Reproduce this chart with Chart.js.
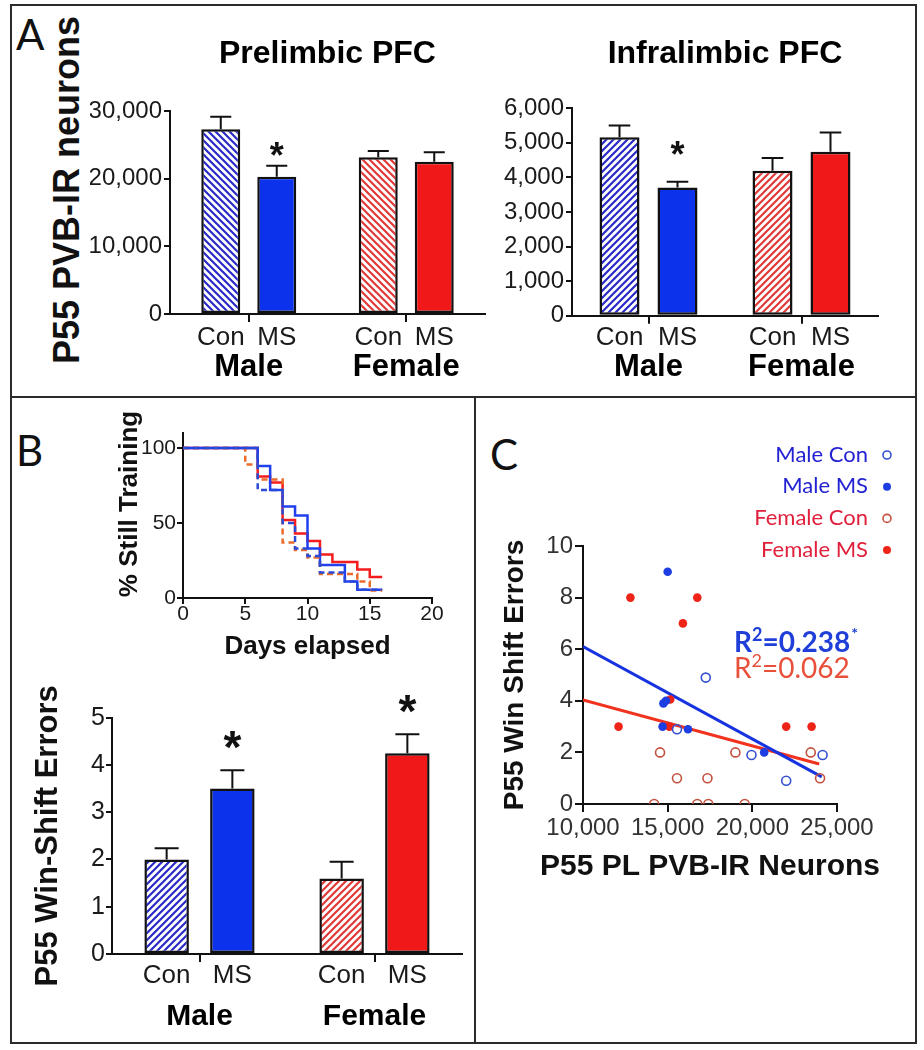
<!DOCTYPE html>
<html>
<head>
<meta charset="utf-8">
<title>P55 PVB-IR neurons and win-shift errors</title>
<script src="https://cdn.jsdelivr.net/npm/chart.js@4.4.1/dist/chart.umd.min.js"></script>
<style>
  html, body { margin: 0; padding: 0; background: #fff; }
  body { width: 924px; height: 1050px; position: relative; overflow: hidden; font-family: 'Liberation Sans', Arial, sans-serif; }
  .frame { position: absolute; left: 10px; top: 4px; width: 903px; height: 1036px; border: 2px solid #2b2b2b; }
  .hline { position: absolute; left: 10px; top: 396px; width: 907px; height: 2px; background: #2b2b2b; }
  .vline { position: absolute; left: 474px; top: 396px; width: 2px; height: 648px; background: #2b2b2b; }
  .letter { position: absolute; font-family: Lato, 'Open Sans', sans-serif; font-size: 42px; line-height: 1; color: #111; }
  .ylab { position: absolute; width: 400px; text-align: center; font-weight: bold; font-size: 36px; line-height: 36px; color: #111; transform: rotate(-90deg); }
  canvas { position: absolute; }
</style>
</head>
<body>
<div class="frame"></div>
<div class="hline"></div>
<div class="vline"></div>
<div class="letter" style="left:16px; top:13px;">A</div>
<div class="letter" style="left:16px; top:429px;">B</div>
<div class="letter" style="left:490px; top:433px;">C</div>
<div class="ylab" style="left:-133px; top:172px;">P55 PVB-IR neurons</div>

<canvas id="plChart" width="410" height="375" style="left:90px; top:20px;"></canvas>
<canvas id="ilChart" width="400" height="375" style="left:495px; top:20px;"></canvas>
<canvas id="survChart" width="350" height="270" style="left:95px; top:400px;"></canvas>
<canvas id="wsChart" width="455" height="360" style="left:15px; top:680px;"></canvas>
<canvas id="corrChart" width="432" height="641" style="left:478px; top:400px;"></canvas>

<script>
// ---- data ----
const groups = ['Male', 'Female'];
const conditions = ['Con', 'MS'];

// A: Prelimbic PFC, P55 PVB-IR neurons (Male, Female)
const plCon = [27300, 23150];
const plConSem = [1850, 950];
const plMs = [20300, 22500];
const plMsSem = [1600, 1400];
const plMsSig = [true, false];

// A: Infralimbic PFC
const ilCon = [5160, 4190];
const ilConSem = [340, 370];
const ilMs = [3710, 4740];
const ilMsSem = [165, 560];
const ilMsSig = [true, false];

// B: P55 win-shift errors
const wsCon = [2.0, 1.6];
const wsConSem = [0.24, 0.35];
const wsMs = [3.5, 4.25];
const wsMsSem = [0.39, 0.4];
const wsMsSig = [true, true];

// B inset: % still training by day
const days = [0, 5, 6, 7, 8, 9, 10, 11, 12, 13, 14, 15, 16];
const survTicks = [0, 50, 100];
const survMaleCon = [100, 100, 72, 72, 50, 33, 28, 17, 17, 11, 5.5, 5.5, 5.5];
const survMaleMs = [100, 100, 88, 72, 61, 55, 33, 22, 22, 11, 5.5, 5.5, 5.5];
const survFemaleCon = [100, 89, 79, 79, 37, 32, 27, 16, 16, 16, 11, 5, 5];
const survFemaleMs = [100, 100, 81, 77, 52, 43, 38, 29, 24, 24, 19, 14, 14];

// C: PL PVB-IR neurons vs win shift errors
const maleConX = [17250, 15550, 19950, 24150, 22000];
const maleConY = [4.9, 2.9, 1.9, 1.9, 0.9];
const maleMsX = [15000, 14750, 14900, 14700, 16200, 20700];
const maleMsY = [9, 3.9, 4.0, 3, 2.9, 2];
const femaleConX = [14550, 19000, 23450, 15550, 17350, 24000, 14200, 16750, 17400, 19550];
const femaleConY = [2, 2, 2, 1, 1, 1, 0, 0, 0, 0];
const femaleMsX = [12800, 16750, 15900, 15150, 12100, 15100, 22000, 23500];
const femaleMsY = [8, 8, 7, 4.05, 3, 3, 3, 3];
const maleFitX = [10000, 24100];
const maleFitY = [6.1, 1.05];
const femaleFitX = [10000, 23950];
const femaleFitY = [4.03, 1.55];
const maleR2 = 0.238;
const femaleR2 = 0.062;

// ---- styles ----
const FONT = "'Liberation Sans', Arial, Helvetica, sans-serif";
const CAL = "Lato, 'Open Sans', sans-serif";
const INK = '#111';
const BLUE_FILL = '#0d32ec';
const RED_FILL = '#f01818';
const BLUE_LINE = '#2a2ac8';
const RED_LINE = '#e03a3a';

Chart.defaults.font.family = FONT;
Chart.defaults.color = '#1a1a1a';
Chart.defaults.animation = false;
Chart.defaults.responsive = false;
Chart.defaults.plugins.legend.display = false;
Chart.defaults.plugins.tooltip.enabled = false;

// diagonal hatch for control bars
function hatch(color, dir) {
    const s = 7;
    const c = document.createElement('canvas');
    c.width = s; c.height = s;
    const g = c.getContext('2d');
    g.fillStyle = '#fff';
    g.fillRect(0, 0, s, s);
    g.strokeStyle = color;
    g.lineWidth = 2.2;
    g.beginPath();
    if (dir === '/') {
        g.moveTo(0, s); g.lineTo(s, 0);
        g.moveTo(-1, 1); g.lineTo(1, -1);
        g.moveTo(s - 1, s + 1); g.lineTo(s + 1, s - 1);
    } else {
        g.moveTo(0, 0); g.lineTo(s, s);
        g.moveTo(-1, s - 1); g.lineTo(1, s + 1);
        g.moveTo(s - 1, -1); g.lineTo(s + 1, 1);
    }
    g.stroke();
    return g.createPattern(c, 'repeat');
}

function drawStar(ctx, x, cy, size) {
    ctx.font = `bold ${size}px ${FONT}`;
    ctx.textAlign = 'center';
    ctx.textBaseline = 'alphabetic';
    ctx.fillStyle = INK;
    ctx.fillText('*', x, cy + 0.57 * size);
}

// error bars, asterisks, Con/MS labels, group labels, title
const barDecor = {
    id: 'barDecor',
    afterDatasetsDraw(chart, args, o) {
        const { ctx, chartArea: area, scales: { x, y } } = chart;
        ctx.save();
        chart.data.datasets.forEach((ds, di) => {
            chart.getDatasetMeta(di).data.forEach((bar, i) => {
                const p = bar.getProps(['x', 'y', 'width'], true);
                const top = y.getPixelForValue(ds.data[i] + ds.sem[i]);
                ctx.strokeStyle = INK;
                ctx.lineWidth = 2;
                ctx.beginPath();
                ctx.moveTo(p.x, p.y);
                ctx.lineTo(p.x, top);
                ctx.moveTo(p.x - p.width * 0.27, top);
                ctx.lineTo(p.x + p.width * 0.27, top);
                ctx.stroke();
                if (ds.sig[i]) drawStar(ctx, p.x, top - o.starGap, o.starSize);
                ctx.font = `${o.subSize}px ${FONT}`;
                ctx.fillStyle = '#1a1a1a';
                ctx.textAlign = 'center';
                ctx.textBaseline = 'alphabetic';
                ctx.fillText(ds.label, p.x, area.bottom + o.subY);
            });
        });
        ctx.font = `bold ${o.groupSize}px ${FONT}`;
        ctx.fillStyle = '#000';
        chart.data.labels.forEach((g, i) => ctx.fillText(g, x.getPixelForValue(i), area.bottom + o.groupY));
        if (o.title) {
            ctx.font = `bold ${o.titleSize}px ${FONT}`;
            ctx.fillText(o.title, (area.left + area.right) / 2, area.top + o.titleY);
        }
        ctx.restore();
    }
};

function yAxis(max, step, width, size, pad) {
    return {
        min: 0, max: max,
        ticks: { stepSize: step, font: { size: size }, color: '#1a1a1a', padding: pad, callback: v => v.toLocaleString('en-US') },
        grid: { drawOnChartArea: false, tickLength: 6, color: INK, lineWidth: 2 },
        border: { color: INK, width: 2 },
        afterFit: s => { s.width = width; }
    };
}

function groupBarChart(id, con, conSem, ms, msSem, msSig, yMax, yStep, dir, geo) {
    const barStyle = { borderColor: INK, borderWidth: 2.5, borderSkipped: false };
    return new Chart(document.getElementById(id), {
        type: 'bar',
        data: {
            labels: groups,
            datasets: [
                { label: conditions[0], data: con, sem: conSem, sig: [false, false],
                  backgroundColor: [hatch(BLUE_LINE, dir), hatch(RED_LINE, dir)], ...barStyle },
                { label: conditions[1], data: ms, sem: msSem, sig: msSig,
                  backgroundColor: [BLUE_FILL, RED_FILL], ...barStyle }
            ]
        },
        options: {
            layout: { padding: geo.pad },
            datasets: { bar: { categoryPercentage: geo.cat, barPercentage: geo.bar } },
            scales: {
                x: {
                    grid: { offset: false, drawOnChartArea: false, tickLength: 8, color: INK, lineWidth: 2 },
                    border: { color: INK, width: 2 },
                    ticks: { display: false },
                    afterFit: s => { s.height = geo.xh; }
                },
                y: yAxis(yMax, yStep, geo.yw, geo.tick, geo.tpad)
            },
            plugins: { barDecor: geo.decor }
        },
        plugins: [barDecor]
    });
}

// A – Prelimbic
groupBarChart('plChart', plCon, plConSem, plMs, plMsSem, plMsSig, 30000, 10000, '\\', {
    pad: { top: 91, right: 15, left: 0, bottom: 0 }, yw: 80, xh: 81, cat: 0.711, bar: 0.696, tick: 24, tpad: 2,
    decor: { title: 'Prelimbic PFC', titleSize: 32, titleY: -48, subSize: 26, subY: 31, groupSize: 31, groupY: 62, starGap: 18, starSize: 36 }
});

// A – Infralimbic
groupBarChart('ilChart', ilCon, ilConSem, ilMs, ilMsSem, ilMsSig, 6000, 1000, '/', {
    pad: { top: 88.3, right: 17, left: 0, bottom: 0 }, yw: 77, xh: 79.3, cat: 0.758, bar: 0.69, tick: 24, tpad: 2,
    decor: { title: 'Infralimbic PFC', titleSize: 32, titleY: -45.3, subSize: 26, subY: 29.3, groupSize: 31, groupY: 60.3, starGap: 35, starSize: 36 }
});

// B – win-shift errors
const wsChart = groupBarChart('wsChart', wsCon, wsConSem, wsMs, wsMsSem, wsMsSig, 5, 1, '/', {
    pad: { top: 37.7, right: 8, left: 0, bottom: 0 }, yw: 97, xh: 86, cat: 0.751, bar: 0.677, tick: 25, tpad: 1,
    decor: { subSize: 26, subY: 29, groupSize: 30, groupY: 71, starGap: 33, starSize: 46 }
});
wsChart.options.scales.y.title = { display: true, text: 'P55 Win-Shift Errors', color: INK,
    font: { size: 31, weight: 'bold', lineHeight: 1 }, padding: { top: 17.5, bottom: 0 } };
wsChart.update();

// B inset – % still training
function steps(vals) {
    return days.map((d, i) => ({ x: d, y: vals[i] }));
}
const survTitle = {
    id: 'survTitle',
    afterDraw(chart) {
        const { ctx, chartArea: a } = chart;
        ctx.save();
        ctx.translate(a.left - 53, 504 - 400);
        ctx.rotate(-Math.PI / 2);
        ctx.font = `bold 26px ${FONT}`;
        ctx.fillStyle = INK;
        ctx.textAlign = 'center';
        ctx.textBaseline = 'middle';
        ctx.fillText('% Still Training', 0, 0);
        ctx.restore();
    }
};
new Chart(document.getElementById('survChart'), {
    type: 'line',
    data: {
        datasets: [
            { label: 'Male Con', data: steps(survMaleCon), borderColor: '#2a4ad8', borderDash: [6, 4] },
            { label: 'Female Con', data: steps(survFemaleCon), borderColor: '#ec6a2a', borderDash: [6, 4] },
            { label: 'Male MS', data: steps(survMaleMs), borderColor: '#2040ee' },
            { label: 'Female MS', data: steps(survFemaleMs), borderColor: '#f41c1c' }
        ]
    },
    options: {
        layout: { padding: { top: 33, right: 13, left: 0, bottom: 0 } },
        elements: { line: { stepped: 'before', borderWidth: 2.5, fill: false }, point: { radius: 0 } },
        scales: {
            x: {
                type: 'linear', min: 0, max: 20,
                ticks: { stepSize: 5, font: { size: 21, lineHeight: 1 }, padding: 0, color: '#1a1a1a' },
                grid: { drawOnChartArea: false, tickLength: 6, color: INK, lineWidth: 2 },
                border: { color: INK, width: 2 },
                title: { display: true, text: 'Days elapsed', color: INK, font: { size: 26, weight: 'bold', lineHeight: 1 }, padding: { top: 0, bottom: 10 } },
                afterFit: s => { s.height = 72; }
            },
            y: {
                min: 0, max: 110,
                ticks: { font: { size: 21 }, padding: 1, color: '#1a1a1a' },
                grid: { drawOnChartArea: false, tickLength: 6, color: INK, lineWidth: 2 },
                border: { color: INK, width: 2 },
                afterBuildTicks: s => { s.ticks = survTicks.map(v => ({ value: v })); },
                afterFit: s => { s.width = 88; }
            }
        }
    },
    plugins: [survTitle]
});

// C – correlation
function pts(xs, ys) {
    return xs.map((x, i) => ({ x: x, y: ys[i] }));
}
const legendColors = ['#2323d2', '#2323d2', '#e0203c', '#e0203c'];

function drawR2(ctx, x, y, r2, color, bold, star) {
    const w = bold ? 'bold ' : '';
    ctx.fillStyle = color;
    ctx.textAlign = 'left';
    ctx.textBaseline = 'alphabetic';
    ctx.font = `${w}28px ${CAL}`;
    ctx.fillText('R', x, y);
    x += ctx.measureText('R').width;
    ctx.font = `${w}18px ${CAL}`;
    ctx.fillText('2', x, y - 11);
    x += ctx.measureText('2').width;
    ctx.font = `${w}28px ${CAL}`;
    const s = '=' + r2.toFixed(3);
    ctx.fillText(s, x, y);
    x += ctx.measureText(s).width;
    if (star) {
        ctx.font = `${w}16px ${CAL}`;
        ctx.fillText('*', x + 1, y - 13);
    }
}

const corrDecor = {
    id: 'corrDecor',
    afterDraw(chart) {
        const { ctx, chartArea: a } = chart;
        ctx.save();
        ctx.font = `22px ${CAL}`;
        ctx.textAlign = 'right';
        ctx.textBaseline = 'alphabetic';
        for (let i = 0; i < 4; i++) {
            const ds = chart.data.datasets[i];
            const by = a.top - 84.3 + i * 31.7;
            ctx.fillStyle = legendColors[i];
            ctx.fillText(ds.label, a.right + 31, by);
            ctx.beginPath();
            ctx.arc(a.right + 50, by - 6.7, 4, 0, Math.PI * 2);
            if (ds.pointBorderWidth > 0) {
                ctx.strokeStyle = ds.borderColor;
                ctx.lineWidth = 1.6;
                ctx.stroke();
            } else {
                ctx.fillStyle = ds.backgroundColor;
                ctx.fill();
            }
        }
        drawR2(ctx, a.left + 151, a.top + 105.7, maleR2, '#1f3fd8', true, true);
        drawR2(ctx, a.left + 151, a.top + 132, femaleR2, '#e8503a', false, false);
        // x-axis title drawn here so it is not squeezed to the axis width
        ctx.font = `bold 30px ${FONT}`;
        ctx.fillStyle = INK;
        ctx.textAlign = 'center';
        ctx.fillText('P55 PL PVB-IR Neurons', (a.left + a.right) / 2, a.bottom + 71);
        ctx.restore();
    }
};

new Chart(document.getElementById('corrChart'), {
    type: 'scatter',
    data: {
        datasets: [
            { label: 'Male Con', data: pts(maleConX, maleConY), backgroundColor: 'rgba(255,255,255,0)', borderColor: '#3550d0', pointBorderWidth: 1.6, pointRadius: 4.5 },
            { label: 'Male MS', data: pts(maleMsX, maleMsY), backgroundColor: '#1d3ee0', borderColor: '#1d3ee0', pointBorderWidth: 0, pointRadius: 4.3 },
            { label: 'Female Con', data: pts(femaleConX, femaleConY), backgroundColor: 'rgba(255,255,255,0)', borderColor: '#c4503e', pointBorderWidth: 1.6, pointRadius: 4.5 },
            { label: 'Female MS', data: pts(femaleMsX, femaleMsY), backgroundColor: '#ee2418', borderColor: '#ee2418', pointBorderWidth: 0, pointRadius: 4.3 },
            { label: 'Male fit', data: pts(maleFitX, maleFitY), showLine: true, borderColor: '#1733e0', borderWidth: 3, pointRadius: 0 },
            { label: 'Female fit', data: pts(femaleFitX, femaleFitY), showLine: true, borderColor: '#f0321e', borderWidth: 3, pointRadius: 0 }
        ]
    },
    options: {
        layout: { padding: { top: 146, right: 73, left: 0, bottom: 150 } },
        scales: {
            x: {
                type: 'linear', min: 10000, max: 25000,
                ticks: { stepSize: 5000, font: { size: 24, lineHeight: 1 }, padding: 4.5, color: '#333', callback: v => v.toLocaleString('en-US') },
                grid: { drawOnChartArea: false, tickLength: 8, color: INK, lineWidth: 2 },
                border: { color: INK, width: 2 },
                afterFit: s => { s.height = 87; }
            },
            y: {
                min: 0, max: 10,
                ticks: { stepSize: 2, font: { size: 24 }, padding: 2, color: '#333' },
                grid: { drawOnChartArea: false, tickLength: 8, color: INK, lineWidth: 2 },
                border: { color: INK, width: 2 },
                title: { display: true, text: 'P55 Win Shift Errors', color: INK, font: { size: 28, weight: 'bold', lineHeight: 1 }, padding: { top: 23, bottom: 0 } },
                afterFit: s => { s.width = 105; }
            }
        }
    },
    plugins: [corrDecor]
});
</script>
</body>
</html>
